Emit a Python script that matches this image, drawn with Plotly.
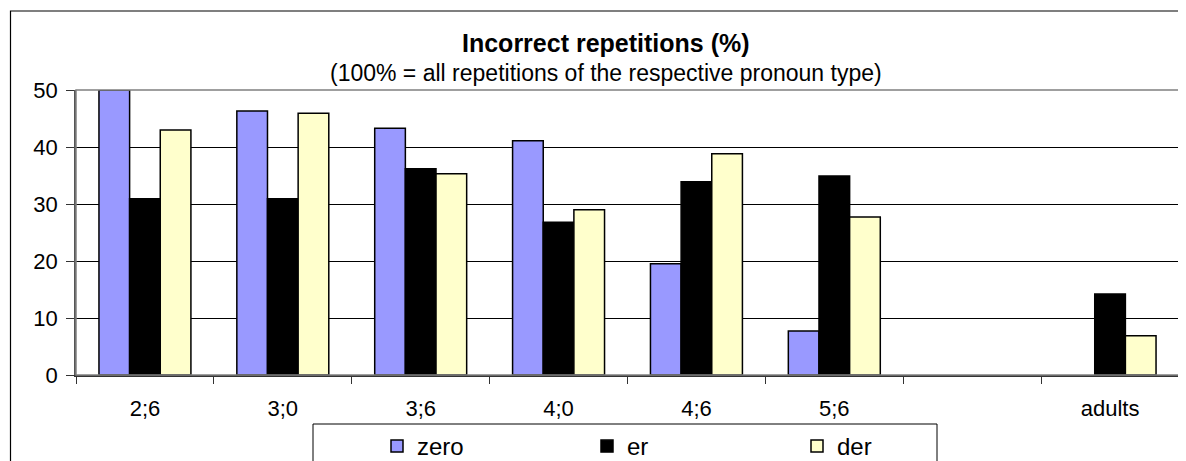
import plotly.graph_objects as go

categories = ["2;6", "3;0", "3;6", "4;0", "4;6", "5;6", " ", "adults"]
zero = [50.0, 46.3, 43.3, 41.1, 19.5, 7.7, None, None]
er = [30.9, 30.9, 36.2, 26.8, 33.9, 34.9, None, 14.2]
der = [43.0, 45.9, 35.3, 29.0, 38.8, 27.7, None, 6.9]

title_text = "Incorrect repetitions (%)"
subtitle_text = "(100% = all repetitions of the respective pronoun type)"

FONT = "Liberation Sans, Arial, sans-serif"

fig = go.Figure()
for name, vals, col in [("zero", zero, "#9999FF"), ("er", er, "#000000"), ("der", der, "#FFFFCC")]:
    fig.add_trace(go.Bar(x=categories, y=vals, name=name,
                         marker=dict(color=col, line=dict(color="#000000", width=1.5))))

# page offset (browser body margin)
OFF = 8
W, H = 1186 - OFF, 461 - OFF
L, R, T, B = 68, 7, 82, 86
pw = W - L - R
ph = H - T - B


def px(xpage):
    return (xpage - OFF - L) / pw


def py(ypage):
    return (H - B - (ypage - OFF)) / ph


fig.update_layout(
    width=W, height=H,
    margin=dict(l=L, r=R, t=T, b=B, autoexpand=False),
    paper_bgcolor="white", plot_bgcolor="white",
    font=dict(family=FONT, size=22, color="black"),
    barmode="group", bargap=0.333, bargroupgap=0,
    showlegend=True,
    legend=dict(orientation="h", x=px(377), y=py(424), xanchor="left", yanchor="top",
                borderwidth=0, bgcolor="rgba(0,0,0,0)",
                font=dict(family=FONT, size=24),
                entrywidth=165, entrywidthmode="pixels",
                traceorder="normal", itemwidth=30),
    xaxis=dict(type="category", categoryorder="array", categoryarray=categories,
               tickson="boundaries", ticks="outside", ticklen=7, tickcolor="#333",
               showline=True, linecolor="#333", linewidth=1.5, showgrid=False,
               tickfont=dict(family=FONT, size=22), ticklabelstandoff=13),
    yaxis=dict(range=[0, 50], dtick=10, ticks="outside", ticklen=8, tickcolor="#333",
               showline=True, linecolor="#555", linewidth=1.5,
               showgrid=True, gridcolor="#000000", gridwidth=1,
               tickfont=dict(family=FONT, size=22), ticklabelstandoff=4, zeroline=False),
    shapes=[
        dict(type="rect", xref="paper", yref="paper", x0=0, x1=1, y0=0, y1=1,
             line=dict(color="#808080", width=1.5), layer="above"),
        dict(type="rect", xref="paper", yref="paper", x0=px(10.5), x1=px(1200), y0=py(11), y1=py(480),
             line=dict(color="#000000", width=1.2), layer="below"),
        dict(type="rect", xref="paper", yref="paper", x0=px(313), x1=px(937), y0=py(424), y1=py(480),
             line=dict(color="#000000", width=1), fillcolor="white", layer="below"),
    ],
    annotations=[
        dict(text="<b>" + title_text + "</b>", xref="paper", yref="paper", x=px(605.5), y=py(43),
             xanchor="center", yanchor="middle", showarrow=False,
             font=dict(family=FONT, size=25)),
        dict(text=subtitle_text, xref="paper", yref="paper", x=px(606), y=py(73),
             xanchor="center", yanchor="middle", showarrow=False,
             font=dict(family=FONT, size=23)),
    ],
)

fig.write_html("out.html")
